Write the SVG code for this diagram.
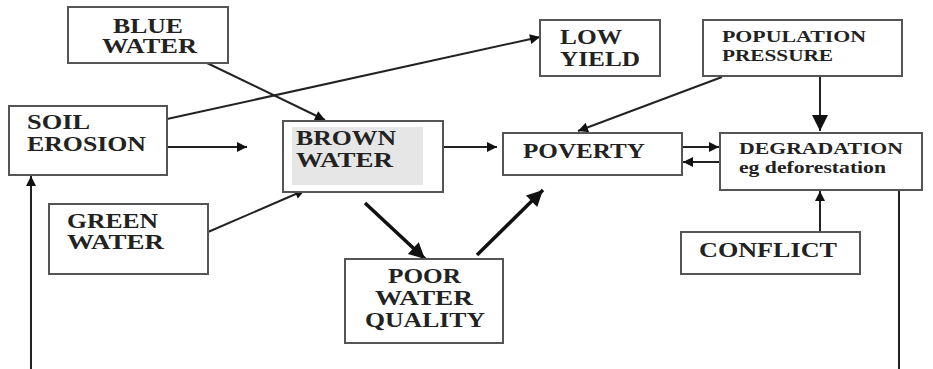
<svg xmlns="http://www.w3.org/2000/svg" width="933" height="369" viewBox="0 0 933 369">
<style>
.box{fill:#fff;stroke:#555;stroke-width:2}
.t{fill:#222}
.s{font-size:16px}
.c{fill:none;stroke:#222;stroke-width:2}
.k{fill:none;stroke:#111;stroke-width:3.5}
</style>
<defs>
<marker id="a" viewBox="0 0 10 10" refX="10" refY="5" markerWidth="14" markerHeight="10" markerUnits="userSpaceOnUse" orient="auto"><path d="M0,0L10,5L0,10z" fill="#111"/></marker>
<marker id="b" viewBox="0 0 10 10" refX="10" refY="5" markerWidth="22" markerHeight="16" markerUnits="userSpaceOnUse" orient="auto"><path d="M0,0L10,5L0,10z" fill="#111"/></marker>
</defs>
<rect width="933" height="369" fill="#fff"/>
<g id="connectors">
<line class="c" x1="207" y1="63" x2="325" y2="120" marker-end="url(#a)"/>
<line class="c" x1="167" y1="119" x2="540" y2="37" marker-end="url(#a)"/>
<line class="c" x1="167" y1="147" x2="247" y2="147" marker-end="url(#a)"/>
<line class="c" x1="208" y1="232" x2="305" y2="190" marker-end="url(#a)"/>
<line class="c" x1="443" y1="147" x2="497" y2="147" marker-end="url(#a)"/>
<line class="c" x1="722" y1="77" x2="578" y2="131" marker-end="url(#a)"/>
<line class="c" x1="820" y1="76" x2="820" y2="131" marker-end="url(#b)"/>
<line class="c" x1="682" y1="147" x2="719" y2="147" marker-end="url(#a)"/>
<line class="c" x1="720" y1="162" x2="683" y2="162" marker-end="url(#a)"/>
<line class="c" x1="820" y1="232" x2="820" y2="191" marker-end="url(#a)"/>
<line class="k" x1="365" y1="203" x2="425" y2="259" marker-end="url(#b)"/>
<line class="k" x1="477" y1="255" x2="543" y2="190" marker-end="url(#b)"/>
<line class="c" x1="899" y1="190" x2="899" y2="369"/>
<line class="c" x1="31" y1="369" x2="31" y2="176" marker-end="url(#a)"/>
</g>
<g id="nodes" font-family="Liberation Serif, Times New Roman, serif" font-weight="bold" font-size="20">
<g id="blue-water">
<rect class="box" x="68" y="7" width="160" height="56"/>
<text class="t" x="113" y="33" textLength="70" lengthAdjust="spacingAndGlyphs">BLUE</text>
<text class="t" x="102" y="53" textLength="95" lengthAdjust="spacingAndGlyphs">WATER</text>
</g>
<g id="soil-erosion">
<rect class="box" x="9" y="106" width="158" height="69"/>
<text class="t" x="27" y="129" textLength="63" lengthAdjust="spacingAndGlyphs">SOIL</text>
<text class="t" x="27" y="151" textLength="119" lengthAdjust="spacingAndGlyphs">EROSION</text>
</g>
<g id="brown-water">
<rect class="box" x="283" y="121" width="160" height="71"/>
<rect x="292" y="127" width="131" height="58" fill="#e6e6e6"/>
<text class="t" x="296" y="145" textLength="100" lengthAdjust="spacingAndGlyphs">BROWN</text>
<text class="t" x="296" y="167" textLength="97" lengthAdjust="spacingAndGlyphs">WATER</text>
</g>
<g id="low-yield">
<rect class="box" x="540" y="20" width="120" height="56"/>
<text class="t" x="560" y="44" textLength="62" lengthAdjust="spacingAndGlyphs">LOW</text>
<text class="t" x="560" y="66" textLength="80" lengthAdjust="spacingAndGlyphs">YIELD</text>
</g>
<g id="population-pressure">
<rect class="box" x="703" y="20" width="199" height="56"/>
<text class="t s" x="722" y="42" textLength="144" lengthAdjust="spacingAndGlyphs">POPULATION</text>
<text class="t s" x="722" y="61" textLength="111" lengthAdjust="spacingAndGlyphs">PRESSURE</text>
</g>
<g id="poverty">
<rect class="box" x="503" y="133" width="179" height="42"/>
<text class="t" x="523" y="158" textLength="122" lengthAdjust="spacingAndGlyphs">POVERTY</text>
</g>
<g id="degradation">
<rect class="box" x="720" y="133" width="202" height="57"/>
<text class="t s" x="739" y="154" textLength="164" lengthAdjust="spacingAndGlyphs">DEGRADATION</text>
<text class="t s" x="739" y="173" textLength="147" lengthAdjust="spacingAndGlyphs">eg deforestation</text>
</g>
<g id="green-water">
<rect class="box" x="49" y="204" width="159" height="70"/>
<text class="t" x="67" y="228" textLength="91" lengthAdjust="spacingAndGlyphs">GREEN</text>
<text class="t" x="67" y="249" textLength="97" lengthAdjust="spacingAndGlyphs">WATER</text>
</g>
<g id="poor-water-quality">
<rect class="box" x="345" y="259" width="158" height="84"/>
<text class="t" x="388" y="283" textLength="73" lengthAdjust="spacingAndGlyphs">POOR</text>
<text class="t" x="375" y="305" textLength="98" lengthAdjust="spacingAndGlyphs">WATER</text>
<text class="t" x="365" y="327" textLength="120" lengthAdjust="spacingAndGlyphs">QUALITY</text>
</g>
<g id="conflict">
<rect class="box" x="681" y="232" width="179" height="42"/>
<text class="t" x="699" y="257" textLength="138" lengthAdjust="spacingAndGlyphs">CONFLICT</text>
</g>
</g>
</svg>
